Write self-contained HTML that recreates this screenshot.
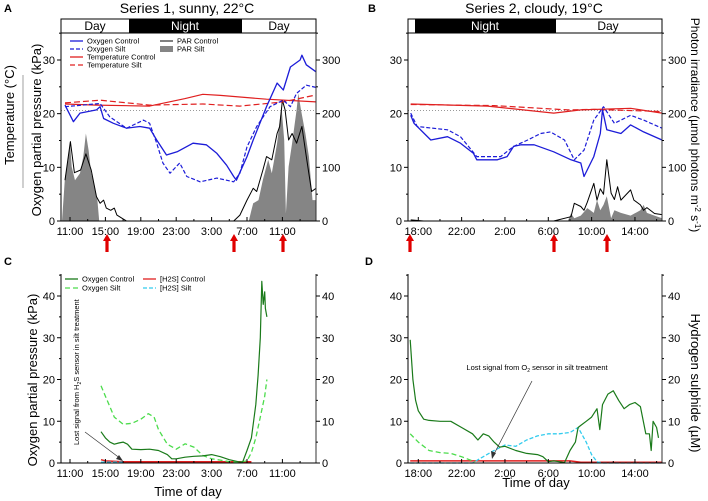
<!DOCTYPE html>
<html><head><meta charset="utf-8"><style>
html,body{margin:0;padding:0;background:#fff}
svg{display:block;font-family:"Liberation Sans",Arial,sans-serif}
</style></head><body>
<svg id="fig" width="708" height="501" viewBox="0 0 708 501" xmlns="http://www.w3.org/2000/svg">
<!-- Panel letters and titles -->
<text x="4" y="12" font-size="11" font-weight="bold">A</text>
<text x="368" y="12" font-size="11" font-weight="bold">B</text>
<text x="4" y="265" font-size="11" font-weight="bold">C</text>
<text x="365" y="265" font-size="11" font-weight="bold">D</text>
<text x="187" y="13" font-size="14" text-anchor="middle">Series 1, sunny, 22°C</text>
<text x="534" y="13" font-size="14" text-anchor="middle">Series 2, cloudy, 19°C</text>

<!-- Day/night bars -->
<g>
<rect x="61" y="19" width="255" height="14" fill="#fff" stroke="#000" stroke-width="1"/>
<rect x="129" y="19" width="113" height="14" fill="#000"/>
<text x="95" y="30" font-size="12" text-anchor="middle">Day</text>
<text x="185" y="30" font-size="12" text-anchor="middle" fill="#fff">Night</text>
<text x="279" y="30" font-size="12" text-anchor="middle">Day</text>
</g>
<g>
<rect x="408" y="19" width="254" height="14" fill="#fff" stroke="#000" stroke-width="1"/>
<rect x="415" y="19" width="141" height="14" fill="#000"/>
<text x="485" y="30" font-size="12" text-anchor="middle" fill="#fff">Night</text>
<text x="608" y="30" font-size="12" text-anchor="middle">Day</text>
</g>

<!-- Axis titles -->
<text transform="translate(41,130) rotate(-90)" font-size="13" text-anchor="middle">Oxygen partial pressure (kPa)</text>
<text transform="translate(14,115) rotate(-90)" font-size="13" text-anchor="middle">Temperature (°C)</text>
<line x1="23" y1="75" x2="23" y2="188" stroke="#888" stroke-width="0.8"/>
<text transform="translate(37,380) rotate(-90)" font-size="13" text-anchor="middle">Oxygen partial pressure (kPa)</text>
<text transform="translate(691,125) rotate(90)" font-size="12" text-anchor="middle">Photon irradiance (µmol photons m<tspan dy="-4" font-size="8">-2</tspan><tspan dy="4"> s</tspan><tspan dy="-4" font-size="8">-1</tspan><tspan dy="4">)</tspan></text>
<text transform="translate(691,383) rotate(90)" font-size="13" text-anchor="middle">Hydrogen sulphide (µM)</text>
<text x="188" y="496" font-size="13" text-anchor="middle">Time of day</text>
<text x="536" y="487" font-size="13" text-anchor="middle">Time of day</text>

<g id="plots"></g>
</svg>
<script>
// ---------- Panel A data (t = hours since 11:00) ----------
const aTickLabels = ["11:00","15:00","19:00","23:00","3:00","7:00","11:00"];
const aO2CtrlT = [-0.56,0.38,1.13,3.0,3.4,3.8,4.9,6.4,7.9,9.0,9.8,10.9,12.1,13.9,15.4,16.6,17.7,18.5,18.8,20.0,20.7,22.2,23.4,24.1,24.9,26.0,26.2,26.7,27.8];
const aO2CtrlV = [21.6,18.5,20.1,20.7,21.3,19.1,18.2,17.3,17.6,17.3,15.1,12.3,12.9,14.5,14.2,12.6,10.4,8.3,7.6,12.0,15.1,21.3,25.7,24.4,28.7,30.0,30.9,29.1,27.8];
const aO2SiltT = [-0.56,3.4,4.5,6.4,8.3,9.0,9.8,10.5,11.3,12.4,13.2,14.7,16.6,18.5,19.2,20.0,21.1,22.6,24.1,24.9,25.6,26.7,27.8];
const aO2SiltV = [21.3,21.9,19.4,17.3,18.8,18.2,14.5,10.8,8.9,10.8,8.3,7.3,8.0,7.3,8.9,13.8,17.6,21.3,22.5,21.3,23.8,25.3,24.9];
const aTempCtrlT = [-0.56,3.0,9.0,13.0,15.0,17.0,22.2,27.8];
const aTempCtrlV = [21.8,21.6,21.4,22.8,23.6,23.4,22.7,22.2];
const aTempSiltT = [-0.56,3.4,9.0,15.0,19.2,24.1,27.8];
const aTempSiltV = [22.0,22.5,21.6,21.8,21.4,22.2,23.5];
const aParSiltT = [-0.9,-0.56,-0.19,0,0.19,0.56,1.13,1.5,1.8,2.1,2.4,2.8,3.1,3.3,20.2,20.5,20.7,21.3,21.8,22.4,22.8,23.4,23.7,23.9,24.2,24.4,24.7,25.1,25.6,25.8,26.1,26.6,27.0,27.4,27.8];
const aParSiltV = [0,82,114,148,101,76,89,120,163,132,89,64,39,0,0,20,33,39,77,114,89,145,188,213,151,14,101,145,207,238,207,163,120,39,39];
const aParCtrlT = [-0.56,-0.19,0.04,0.5,1.2,1.8,2.4,3.0,3.4,3.8,4.1,4.6,5.0,5.3,6.0,6.4,18.5,19.2,20.0,20.7,21.1,21.8,22.2,22.8,23.4,23.7,24.0,24.3,24.7,25.1,25.6,26.2,26.7,27.3,27.8];
const aParCtrlV = [76,120,148,90,95,125,95,45,33,39,24,20,24,11,4,0,0,11,39,61,55,95,120,114,163,176,225,207,151,163,145,176,120,55,61];
// ---------- Panel B data (t = hours since 18:00) ----------
const bTickLabels = ["18:00","22:00","2:00","6:00","10:00","14:00"];
const bO2CtrlT = [-0.7,-0.4,1.15,2.7,3.9,5.1,5.4,7.3,8.2,8.8,9.5,10.7,12.5,14.1,15.0,15.3,16.2,16.8,17.0,17.4,18.7,19.6,20.8,22.5];
const bO2CtrlV = [19.7,18.2,15.1,15.7,14.5,12.6,11.4,11.4,12.0,13.9,14.2,14.2,12.9,11.4,10.8,8.3,12.0,16.3,20.7,17.0,16.3,17.9,16.6,15.1];
const bO2SiltT = [-0.7,-0.1,2.7,3.9,5.4,7.6,8.8,10.1,11.3,12.2,13.5,14.4,15.3,16.2,17.1,18.1,19.6,20.8,22.5];
const bO2SiltV = [20.1,17.6,17.0,15.7,12.0,12.0,13.9,15.1,16.3,16.6,15.1,11.4,13.2,18.8,21.3,18.2,19.7,18.8,17.3];
const bTempCtrlT = [-0.7,6.4,12.5,15.0,19.6,22.5];
const bTempCtrlV = [21.8,21.4,20.1,20.7,21.0,20.1];
const bTempSiltT = [-0.7,7.0,11.3,13.8,16.2,22.5];
const bTempSiltV = [21.7,21.5,21.0,20.7,20.8,20.4];
const bParCtrlT = [-0.7,0.5,12.5,14.1,14.4,15.0,15.3,15.6,16.2,16.5,16.8,17.1,17.4,17.8,18.1,18.4,18.7,19.6,19.9,20.5,20.8,21.1,21.8,22.5];
const bParCtrlV = [2,0,0,8,33,27,20,35,70,39,60,50,114,52,40,64,39,58,39,30,20,25,14,12];
const bParSiltT = [13.8,14.1,14.4,15.0,15.6,16.2,16.5,16.8,17.1,17.4,17.8,18.1,18.7,19.6,20.5,20.8,21.1,21.8,22.5];
const bParSiltV = [0,14,5,10,24,15,39,20,30,46,5,20,15,10,20,30,15,10,5];
// ---------- Panel C data (t = hours since 11:00) ----------
const cO2CtrlT = [3.5,4,4.5,5,5.5,6,6.5,7,8,9,10,11,11.5,12,13,14,15,16,17,18,19,19.5,20,20.5,21,21.25,21.5,21.67,21.83,22.0,22.08,22.25];
const cO2CtrlV = [7.5,6,5,4.5,4.8,5,4.5,3.3,3.2,3.3,3,2,1,1,1.4,1.6,1.7,2,1.5,0.8,0.3,0.2,3,6,14,21,30,43.5,38,41,37,35];
const cO2SiltT = [3.5,4,5,6,7,8,8.85,9.5,10,11,12,13,14,15,16,17,18,19,20,20.5,21,21.5,22,22.25];
const cO2SiltV = [18.5,16,11,9.3,9.5,10.5,11.8,11,8,4.5,3.3,4.6,3.8,1.8,1,0.7,0.3,0.2,0.5,2.5,6,11,16,20];
const cH2sCtrlT = [3.5,4,6,10,14,18,20.5];
const cH2sCtrlV = [0.8,0.5,0.3,0.3,0.3,0.3,0.3];
const cH2sSiltT = [3.5,4.5,6];
const cH2sSiltV = [0.2,0.2,0.2];
// ---------- Panel D data (t = hours since 18:00) ----------
const dO2CtrlT = [-0.75,-0.5,-0.25,0,0.5,1,2,3,4,5,5.5,6,6.5,7,7.5,8,9,10,11,11.5,12,12.5,13,13.5,14,14.5,14.75,15,15.5,16,16.5,16.75,17,17.5,18,18.5,19,19.5,20,20.5,21,21.33,21.5,21.67,22,22.17];
const dO2CtrlV = [29.5,20,15,12.5,10.5,10.2,10,10,8.5,7,5.5,7,6.5,5,3.8,4,3,2.3,2,1.5,0.3,0.5,0.3,0.1,3,5,8.5,9,10,11,13,8,14,16.5,17.3,15,13,14,14.5,13.5,7,7,3,10,8.5,6];
const dO2SiltT = [-0.75,0,1,2,3,4,5,5.25];
const dO2SiltV = [7,5,3,2.5,2.3,1.5,0.5,0.3];
const dH2sSiltT = [-0.75,5,6,7,8,9,10,11,12,13,14,14.75,15.5,16,16.5,17,22.5];
const dH2sSiltV = [0,0,1.5,3,4.3,4,5.5,6.5,7,7,7.3,8.5,5,2,0.3,0,0];
const dH2sCtrlT = [-0.75,14,15,22.5];
const dH2sCtrlV = [0.5,0.5,0.2,0.2];

const NS = "http://www.w3.org/2000/svg";
const root = document.getElementById('plots');
function mk(tag, attrs, parent){const e=document.createElementNS(NS,tag);for(const k in attrs)e.setAttribute(k,attrs[k]);(parent||root).appendChild(e);return e;}

// axis functions
const xA = t => 70 + 8.85*t;
const xB = t => 418.3 + 10.833*t;
const yA = v => 221 - 5.367*v;      // left kPa/°C, top panels
const yAr = v => 221 - 0.5367*v;    // right PAR, top panels
const yC = v => 463 - 4.175*v;      // bottom panels

function pts(T,V,xf,yf){return T.map((t,i)=>xf(t).toFixed(1)+','+yf(V[i]).toFixed(1)).join(' ');}
function series(name,T,V,xf,yf,stroke,width,dash){
  const p=mk('polyline',{points:pts(T,V,xf,yf),fill:'none',stroke:stroke,'stroke-width':width,'stroke-linejoin':'round'});
  if(dash)p.setAttribute('stroke-dasharray',dash);
  
  
  return p;
}
function area(name,T,V,xf,yf,base,fill){
  const s=xf(T[0]).toFixed(1)+','+base+' '+pts(T,V,xf,yf)+' '+xf(T[T.length-1]).toFixed(1)+','+base;
  const p=mk('polygon',{points:s,fill:fill,stroke:'none'});
  
  
}

function axes(cfg){
  const g=mk('g',{});
  
  
  const {x0,x1,yTop,yBot}=cfg;
  mk('line',{x1:x0,y1:yTop,x2:x0,y2:yBot,stroke:'#000','stroke-width':1},g);
  mk('line',{x1:x1,y1:yTop,x2:x1,y2:yBot,stroke:'#333','stroke-width':1},g);
  mk('line',{x1:x0,y1:yBot,x2:x1,y2:yBot,stroke:'#000','stroke-width':1},g);
  // y ticks
  cfg.yMajor.forEach((v,i)=>{
    const y=cfg.yf(v);
    mk('line',{x1:x0-4,y1:y,x2:x0,y2:y,stroke:'#000'},g);
    mk('line',{x1:x1,y1:y,x2:x1+4,y2:y,stroke:'#000'},g);
    const tl=mk('text',{x:x0-6,y:y+4,'font-size':11,'text-anchor':'end'},g);tl.textContent=v;
    const tr=mk('text',{x:x1+6,y:y+4,'font-size':11},g);tr.textContent=cfg.yRight[i];
  });
  cfg.yMinor.forEach(v=>{const y=cfg.yf(v);
    mk('line',{x1:x0-2,y1:y,x2:x0,y2:y,stroke:'#000'},g);
    mk('line',{x1:x1,y1:y,x2:x1+2,y2:y,stroke:'#000'},g);});
  // x ticks
  cfg.xLabels.forEach((lab,i)=>{
    const x=cfg.xf(i*4);
    mk('line',{x1:x,y1:yBot,x2:x,y2:yBot-4,stroke:'#000'},g);
    const mx=cfg.xf(i*4+2); if(mx<x1) mk('line',{x1:mx,y1:yBot,x2:mx,y2:yBot-2,stroke:'#000'},g);
    const mx2=cfg.xf(i*4-2); if(i===0&&mx2>x0) mk('line',{x1:mx2,y1:yBot,x2:mx2,y2:yBot-2,stroke:'#000'},g);
    const t=mk('text',{x:x,y:yBot+14,'font-size':11,'text-anchor':'middle'},g);t.textContent=lab;
  });
}
function arrow(x,name){
  const g=mk('g',{});
  
  
  mk('polygon',{points:`${x-4},241 ${x},234 ${x+4},241`,fill:'#e00000'},g);
  mk('rect',{x:x-1.6,y:240,width:3.2,height:12,fill:'#e00000'},g);
}

// ---------- Panel A ----------
area('par-silt-area-a',aParSiltT,aParSiltV,xA,yAr,221,'#858585');
series('par-control-line-a',aParCtrlT,aParCtrlV,xA,yAr,'#000',1);
mk('line',{x1:61,y1:yA(20.6),x2:316,y2:yA(20.6),stroke:'#999','stroke-width':1,'stroke-dasharray':'1,2'});
series('temperature-control-line-a',aTempCtrlT,aTempCtrlV,xA,yA,'#e02020',1.2);
series('temperature-silt-line-a',aTempSiltT,aTempSiltV,xA,yA,'#e02020',1.2,'6,3');
series('oxygen-control-line-a',aO2CtrlT,aO2CtrlV,xA,yA,'#1c1cd8',1.3);
series('oxygen-silt-line-a',aO2SiltT,aO2SiltV,xA,yA,'#1c1cd8',1.2,'4,2');
axes({name:'axes-a',x0:61,x1:316,yTop:33,yBot:221,yf:yA,yMajor:[0,10,20,30],yRight:['0','100','200','300'],yMinor:[5,15,25,35],xf:xA,xLabels:aTickLabels});
// ---------- Panel B ----------
area('par-silt-area-b',bParSiltT,bParSiltV,xB,yAr,221,'#858585');
series('par-control-line-b',bParCtrlT,bParCtrlV,xB,yAr,'#000',1);
mk('line',{x1:408,y1:yA(20.6),x2:662,y2:yA(20.6),stroke:'#999','stroke-width':1,'stroke-dasharray':'1,2'});
series('temperature-control-line-b',bTempCtrlT,bTempCtrlV,xB,yA,'#e02020',1.2);
series('temperature-silt-line-b',bTempSiltT,bTempSiltV,xB,yA,'#e02020',1.2,'6,3');
series('oxygen-control-line-b',bO2CtrlT,bO2CtrlV,xB,yA,'#1c1cd8',1.3);
series('oxygen-silt-line-b',bO2SiltT,bO2SiltV,xB,yA,'#1c1cd8',1.2,'4,2');
axes({name:'axes-b',x0:408,x1:662,yTop:33,yBot:221,yf:yA,yMajor:[0,10,20,30],yRight:['0','100','200','300'],yMinor:[5,15,25,35],xf:xB,xLabels:bTickLabels});
// ---------- Panel C ----------
series('h2s-control-line-c',cH2sCtrlT,cH2sCtrlV,xA,yC,'#e02020',1.5);
series('h2s-silt-line-c',cH2sSiltT,cH2sSiltV,xA,yC,'#33ccee',1.5,'4,2');
series('oxygen-silt-line-c',cO2SiltT,cO2SiltV,xA,yC,'#4cdc4c',1.3,'5,3');
series('oxygen-control-line-c',cO2CtrlT,cO2CtrlV,xA,yC,'#1a7a1a',1.2);
axes({name:'axes-c',x0:61,x1:316,yTop:274,yBot:463,yf:yC,yMajor:[0,10,20,30,40],yRight:['0','10','20','30','40'],yMinor:[5,15,25,35,45],xf:xA,xLabels:aTickLabels});
// ---------- Panel D ----------
series('h2s-control-line-d',dH2sCtrlT,dH2sCtrlV,xB,yC,'#e02020',1.5);
series('h2s-silt-line-d',dH2sSiltT,dH2sSiltV,xB,yC,'#33ccee',1.3,'4,2');
series('oxygen-silt-line-d',dO2SiltT,dO2SiltV,xB,yC,'#4cdc4c',1.3,'5,3');
series('oxygen-control-line-d',dO2CtrlT,dO2CtrlV,xB,yC,'#1a7a1a',1.2);
axes({name:'axes-d',x0:408,x1:662,yTop:274,yBot:463,yf:yC,yMajor:[0,10,20,30,40],yRight:['0','10','20','30','40'],yMinor:[5,15,25,35,45],xf:xB,xLabels:bTickLabels});

// arrows
arrow(107,'sampling-arrow-a1');arrow(234,'sampling-arrow-a2');arrow(283,'sampling-arrow-a3');
arrow(410,'sampling-arrow-b1');arrow(554,'sampling-arrow-b2');arrow(607,'sampling-arrow-b3');

// legends
function legLine(x,y,col,dash,label,name,w){
  const g=mk('g',{});
  
  
  const l=mk('line',{x1:x,y1:y,x2:x+13,y2:y,stroke:col,'stroke-width':w||1.3},g);
  if(dash)l.setAttribute('stroke-dasharray',dash);
  const t=mk('text',{x:x+17,y:y+2.5,'font-size':7.5},g);t.textContent=label;
}
legLine(70,41,'#1c1cd8','','Oxygen Control','legend-oxygen-control-a');
legLine(70,49,'#1c1cd8','4,2','Oxygen Silt','legend-oxygen-silt-a');
legLine(70,57,'#e02020','','Temperature Control','legend-temperature-control-a');
legLine(70,65,'#e02020','5,3','Temperature Silt','legend-temperature-silt-a');
legLine(160,41,'#000','','PAR Control','legend-par-control-a',1);
(function(){const g=mk('g',{});


mk('rect',{x:160,y:46,width:13,height:6,fill:'#858585'},g);
const t=mk('text',{x:177,y:51.5,'font-size':7.5},g);t.textContent='PAR Silt';})();
legLine(65,279,'#1a7a1a','','Oxygen Control','legend-oxygen-control-c');
legLine(65,288,'#4cdc4c','5,3','Oxygen Silt','legend-oxygen-silt-c');
legLine(143,279,'#e02020','','[H2S] Control','legend-h2s-control-c');
legLine(143,288,'#33ccee','4,2','[H2S] Silt','legend-h2s-silt-c');

// annotations
(function(){
  const g=mk('g',{});
  
  
  const t=mk('text',{transform:'translate(79,445) rotate(-90)','font-size':7.5},g);
  t.innerHTML='Lost signal from H<tspan dy="2" font-size="5">2</tspan><tspan dy="-2">S sensor in silt treatment</tspan>';
  mk('line',{x1:85,y1:432,x2:121,y2:459,stroke:'#333','stroke-width':0.7},g);
  mk('polygon',{points:'123,461 116,459 119,455',fill:'#333'},g);
  const g2=mk('g',{});
  
  
  const t2=mk('text',{x:537,y:370,'font-size':7.5,'text-anchor':'middle'},g2);
  t2.innerHTML='Lost signal from O<tspan dy="2" font-size="5">2</tspan><tspan dy="-2"> sensor in silt treatment</tspan>';
  mk('line',{x1:532,y1:381,x2:493,y2:456,stroke:'#333','stroke-width':0.7},g2);
  mk('polygon',{points:'492,459 491,451 496,453',fill:'#333'},g2);
})();
</script>
</body></html>
